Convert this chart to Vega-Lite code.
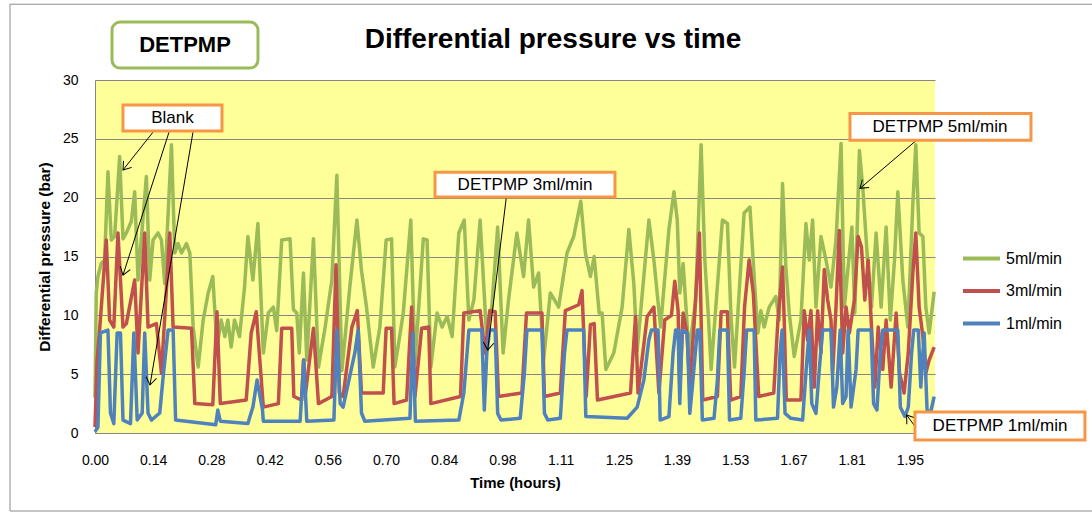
{
"$schema":"https://vega.github.io/schema/vega-lite/v6.json",
"autosize":{"type":"none"},
"width":840,"height":353,
"padding":{"left":95,"top":80,"right":157,"bottom":82},
"background":"white",
"config":{"view":{"fill":"#FFFF99","stroke":null},"font":"Liberation Sans"},
"datasets":{"p":[
{"s":"5ml/min","t":0,"v":3},{"s":"5ml/min","t":0.003,"v":11.9},{"s":"5ml/min","t":0.007,"v":13.3},{"s":"5ml/min","t":0.015,"v":14.4},{"s":"5ml/min","t":0.023,"v":14.7},{"s":"5ml/min","t":0.031,"v":22.2},{"s":"5ml/min","t":0.039,"v":16.4},{"s":"5ml/min","t":0.047,"v":16.7},{"s":"5ml/min","t":0.059,"v":23.5},{"s":"5ml/min","t":0.067,"v":16.5},{"s":"5ml/min","t":0.075,"v":17},{"s":"5ml/min","t":0.087,"v":18},{"s":"5ml/min","t":0.095,"v":20.5},{"s":"5ml/min","t":0.103,"v":13},{"s":"5ml/min","t":0.123,"v":21.8},{"s":"5ml/min","t":0.131,"v":13},{"s":"5ml/min","t":0.139,"v":16.4},{"s":"5ml/min","t":0.151,"v":17},{"s":"5ml/min","t":0.159,"v":16.4},{"s":"5ml/min","t":0.167,"v":12.7},{"s":"5ml/min","t":0.183,"v":24.5},{"s":"5ml/min","t":0.191,"v":15.3},{"s":"5ml/min","t":0.199,"v":16.1},{"s":"5ml/min","t":0.207,"v":15.3},{"s":"5ml/min","t":0.219,"v":16.1},{"s":"5ml/min","t":0.227,"v":15.3},{"s":"5ml/min","t":0.235,"v":9},{"s":"5ml/min","t":0.247,"v":5.6},{"s":"5ml/min","t":0.259,"v":9.6},{"s":"5ml/min","t":0.271,"v":11.9},{"s":"5ml/min","t":0.282,"v":13.3},{"s":"5ml/min","t":0.292,"v":7.3},{"s":"5ml/min","t":0.302,"v":9.6},{"s":"5ml/min","t":0.311,"v":8.2},{"s":"5ml/min","t":0.318,"v":9.6},{"s":"5ml/min","t":0.326,"v":7.3},{"s":"5ml/min","t":0.334,"v":9.6},{"s":"5ml/min","t":0.346,"v":8.2},{"s":"5ml/min","t":0.358,"v":12.4},{"s":"5ml/min","t":0.366,"v":16.7},{"s":"5ml/min","t":0.378,"v":13},{"s":"5ml/min","t":0.39,"v":17.8},{"s":"5ml/min","t":0.403,"v":6.8},{"s":"5ml/min","t":0.415,"v":10.2},{"s":"5ml/min","t":0.427,"v":10.7},{"s":"5ml/min","t":0.435,"v":8.7},{"s":"5ml/min","t":0.447,"v":16.4},{"s":"5ml/min","t":0.467,"v":16.5},{"s":"5ml/min","t":0.475,"v":10.5},{"s":"5ml/min","t":0.483,"v":10.2},{"s":"5ml/min","t":0.489,"v":6.8},{"s":"5ml/min","t":0.499,"v":13.6},{"s":"5ml/min","t":0.507,"v":6.2},{"s":"5ml/min","t":0.523,"v":16.5},{"s":"5ml/min","t":0.535,"v":5.6},{"s":"5ml/min","t":0.551,"v":9},{"s":"5ml/min","t":0.567,"v":13},{"s":"5ml/min","t":0.579,"v":21.9},{"s":"5ml/min","t":0.591,"v":5.3},{"s":"5ml/min","t":0.61,"v":12.4},{"s":"5ml/min","t":0.627,"v":18.1},{"s":"5ml/min","t":0.638,"v":13.8},{"s":"5ml/min","t":0.65,"v":10.7},{"s":"5ml/min","t":0.666,"v":5.6},{"s":"5ml/min","t":0.682,"v":9},{"s":"5ml/min","t":0.697,"v":16.4},{"s":"5ml/min","t":0.71,"v":16.5},{"s":"5ml/min","t":0.718,"v":5.6},{"s":"5ml/min","t":0.738,"v":10.2},{"s":"5ml/min","t":0.756,"v":18.1},{"s":"5ml/min","t":0.766,"v":5.9},{"s":"5ml/min","t":0.786,"v":16.5},{"s":"5ml/min","t":0.795,"v":16.4},{"s":"5ml/min","t":0.804,"v":5.6},{"s":"5ml/min","t":0.819,"v":10.2},{"s":"5ml/min","t":0.831,"v":9},{"s":"5ml/min","t":0.843,"v":9.9},{"s":"5ml/min","t":0.855,"v":8.2},{"s":"5ml/min","t":0.871,"v":17},{"s":"5ml/min","t":0.884,"v":18.1},{"s":"5ml/min","t":0.895,"v":9.6},{"s":"5ml/min","t":0.907,"v":11.3},{"s":"5ml/min","t":0.922,"v":18.1},{"s":"5ml/min","t":0.937,"v":8.5},{"s":"5ml/min","t":0.95,"v":10.7},{"s":"5ml/min","t":0.964,"v":17.5},{"s":"5ml/min","t":0.977,"v":6.8},{"s":"5ml/min","t":0.99,"v":11.3},{"s":"5ml/min","t":1.01,"v":17},{"s":"5ml/min","t":1.026,"v":13.3},{"s":"5ml/min","t":1.038,"v":18.1},{"s":"5ml/min","t":1.05,"v":12.4},{"s":"5ml/min","t":1.062,"v":13.6},{"s":"5ml/min","t":1.074,"v":6.2},{"s":"5ml/min","t":1.09,"v":11.9},{"s":"5ml/min","t":1.11,"v":10.7},{"s":"5ml/min","t":1.13,"v":15.3},{"s":"5ml/min","t":1.146,"v":16.7},{"s":"5ml/min","t":1.163,"v":19.7},{"s":"5ml/min","t":1.174,"v":15.3},{"s":"5ml/min","t":1.186,"v":13.3},{"s":"5ml/min","t":1.195,"v":15},{"s":"5ml/min","t":1.207,"v":10.2},{"s":"5ml/min","t":1.214,"v":10.2},{"s":"5ml/min","t":1.223,"v":5.4},{"s":"5ml/min","t":1.242,"v":6.8},{"s":"5ml/min","t":1.262,"v":10.7},{"s":"5ml/min","t":1.278,"v":17.3},{"s":"5ml/min","t":1.29,"v":12.7},{"s":"5ml/min","t":1.298,"v":7},{"s":"5ml/min","t":1.326,"v":18.1},{"s":"5ml/min","t":1.338,"v":14.7},{"s":"5ml/min","t":1.354,"v":9},{"s":"5ml/min","t":1.374,"v":17.3},{"s":"5ml/min","t":1.386,"v":20.5},{"s":"5ml/min","t":1.394,"v":18.1},{"s":"5ml/min","t":1.4,"v":11.9},{"s":"5ml/min","t":1.408,"v":14.4},{"s":"5ml/min","t":1.422,"v":6.8},{"s":"5ml/min","t":1.438,"v":11.3},{"s":"5ml/min","t":1.451,"v":24.5},{"s":"5ml/min","t":1.46,"v":14.7},{"s":"5ml/min","t":1.468,"v":10.2},{"s":"5ml/min","t":1.475,"v":5.4},{"s":"5ml/min","t":1.502,"v":18.1},{"s":"5ml/min","t":1.514,"v":17.8},{"s":"5ml/min","t":1.523,"v":9.6},{"s":"5ml/min","t":1.531,"v":5.6},{"s":"5ml/min","t":1.554,"v":18.7},{"s":"5ml/min","t":1.568,"v":19.2},{"s":"5ml/min","t":1.578,"v":13.3},{"s":"5ml/min","t":1.587,"v":8.5},{"s":"5ml/min","t":1.594,"v":10.4},{"s":"5ml/min","t":1.602,"v":9},{"s":"5ml/min","t":1.614,"v":10.7},{"s":"5ml/min","t":1.63,"v":11.6},{"s":"5ml/min","t":1.638,"v":9.6},{"s":"5ml/min","t":1.646,"v":21.2},{"s":"5ml/min","t":1.654,"v":14.1},{"s":"5ml/min","t":1.662,"v":10.2},{"s":"5ml/min","t":1.674,"v":6.5},{"s":"5ml/min","t":1.69,"v":9.6},{"s":"5ml/min","t":1.702,"v":17.8},{"s":"5ml/min","t":1.71,"v":14.7},{"s":"5ml/min","t":1.718,"v":18.1},{"s":"5ml/min","t":1.726,"v":10.7},{"s":"5ml/min","t":1.738,"v":16.7},{"s":"5ml/min","t":1.75,"v":14.7},{"s":"5ml/min","t":1.762,"v":12.4},{"s":"5ml/min","t":1.774,"v":16.4},{"s":"5ml/min","t":1.786,"v":24.6},{"s":"5ml/min","t":1.794,"v":10.7},{"s":"5ml/min","t":1.803,"v":14.1},{"s":"5ml/min","t":1.812,"v":17.5},{"s":"5ml/min","t":1.819,"v":10.2},{"s":"5ml/min","t":1.83,"v":24},{"s":"5ml/min","t":1.838,"v":20.9},{"s":"5ml/min","t":1.85,"v":14.4},{"s":"5ml/min","t":1.859,"v":10.7},{"s":"5ml/min","t":1.87,"v":17},{"s":"5ml/min","t":1.882,"v":10.7},{"s":"5ml/min","t":1.894,"v":17.5},{"s":"5ml/min","t":1.904,"v":9.6},{"s":"5ml/min","t":1.914,"v":14.7},{"s":"5ml/min","t":1.922,"v":20.5},{"s":"5ml/min","t":1.934,"v":13},{"s":"5ml/min","t":1.946,"v":9},{"s":"5ml/min","t":1.958,"v":19.5},{"s":"5ml/min","t":1.965,"v":24.5},{"s":"5ml/min","t":1.973,"v":17},{"s":"5ml/min","t":1.982,"v":16.7},{"s":"5ml/min","t":1.989,"v":10.7},{"s":"5ml/min","t":1.997,"v":8.5},{"s":"5ml/min","t":2.009,"v":12},
{"s":"3ml/min","t":0,"v":0.5},{"s":"3ml/min","t":0.005,"v":6.2},{"s":"3ml/min","t":0.011,"v":8.75},{"s":"3ml/min","t":0.027,"v":16.4},{"s":"3ml/min","t":0.035,"v":9.6},{"s":"3ml/min","t":0.045,"v":9},{"s":"3ml/min","t":0.055,"v":17},{"s":"3ml/min","t":0.067,"v":9},{"s":"3ml/min","t":0.075,"v":9.3},{"s":"3ml/min","t":0.095,"v":13},{"s":"3ml/min","t":0.103,"v":6.8},{"s":"3ml/min","t":0.119,"v":17},{"s":"3ml/min","t":0.127,"v":9},{"s":"3ml/min","t":0.147,"v":9.3},{"s":"3ml/min","t":0.159,"v":5.1},{"s":"3ml/min","t":0.179,"v":17},{"s":"3ml/min","t":0.187,"v":9},{"s":"3ml/min","t":0.231,"v":8.9},{"s":"3ml/min","t":0.239,"v":2.5},{"s":"3ml/min","t":0.282,"v":2.4},{"s":"3ml/min","t":0.292,"v":10.3},{"s":"3ml/min","t":0.3,"v":2.5},{"s":"3ml/min","t":0.362,"v":2.8},{"s":"3ml/min","t":0.374,"v":8.5},{"s":"3ml/min","t":0.386,"v":10.3},{"s":"3ml/min","t":0.403,"v":2.2},{"s":"3ml/min","t":0.439,"v":2.5},{"s":"3ml/min","t":0.447,"v":8.9},{"s":"3ml/min","t":0.471,"v":8.9},{"s":"3ml/min","t":0.476,"v":3.1},{"s":"3ml/min","t":0.495,"v":2.8},{"s":"3ml/min","t":0.499,"v":6.2},{"s":"3ml/min","t":0.504,"v":3.4},{"s":"3ml/min","t":0.523,"v":8.9},{"s":"3ml/min","t":0.535,"v":2.5},{"s":"3ml/min","t":0.567,"v":3.1},{"s":"3ml/min","t":0.577,"v":14.3},{"s":"3ml/min","t":0.585,"v":3.4},{"s":"3ml/min","t":0.594,"v":3.1},{"s":"3ml/min","t":0.615,"v":9},{"s":"3ml/min","t":0.628,"v":10.4},{"s":"3ml/min","t":0.638,"v":3.4},{"s":"3ml/min","t":0.69,"v":3.4},{"s":"3ml/min","t":0.697,"v":8.9},{"s":"3ml/min","t":0.71,"v":8.9},{"s":"3ml/min","t":0.716,"v":2.5},{"s":"3ml/min","t":0.746,"v":2.8},{"s":"3ml/min","t":0.758,"v":10.7},{"s":"3ml/min","t":0.766,"v":3.1},{"s":"3ml/min","t":0.782,"v":8.9},{"s":"3ml/min","t":0.799,"v":9},{"s":"3ml/min","t":0.804,"v":2.5},{"s":"3ml/min","t":0.875,"v":3.1},{"s":"3ml/min","t":0.883,"v":10.2},{"s":"3ml/min","t":0.922,"v":10.4},{"s":"3ml/min","t":0.934,"v":6.8},{"s":"3ml/min","t":0.945,"v":10.4},{"s":"3ml/min","t":0.958,"v":10.3},{"s":"3ml/min","t":0.966,"v":3.1},{"s":"3ml/min","t":1.022,"v":3.4},{"s":"3ml/min","t":1.033,"v":10.2},{"s":"3ml/min","t":1.07,"v":10.2},{"s":"3ml/min","t":1.076,"v":3.1},{"s":"3ml/min","t":1.114,"v":3.4},{"s":"3ml/min","t":1.126,"v":10.4},{"s":"3ml/min","t":1.158,"v":10.9},{"s":"3ml/min","t":1.166,"v":12.1},{"s":"3ml/min","t":1.176,"v":3.1},{"s":"3ml/min","t":1.186,"v":9.2},{"s":"3ml/min","t":1.195,"v":9.3},{"s":"3ml/min","t":1.203,"v":2.8},{"s":"3ml/min","t":1.282,"v":3.4},{"s":"3ml/min","t":1.294,"v":9.9},{"s":"3ml/min","t":1.3,"v":3.4},{"s":"3ml/min","t":1.322,"v":9.9},{"s":"3ml/min","t":1.338,"v":10.7},{"s":"3ml/min","t":1.35,"v":3.4},{"s":"3ml/min","t":1.364,"v":9.6},{"s":"3ml/min","t":1.38,"v":10},{"s":"3ml/min","t":1.388,"v":12.9},{"s":"3ml/min","t":1.396,"v":10.4},{"s":"3ml/min","t":1.4,"v":3.9},{"s":"3ml/min","t":1.408,"v":10.2},{"s":"3ml/min","t":1.417,"v":8.5},{"s":"3ml/min","t":1.424,"v":3.9},{"s":"3ml/min","t":1.436,"v":10.2},{"s":"3ml/min","t":1.447,"v":17},{"s":"3ml/min","t":1.455,"v":2.8},{"s":"3ml/min","t":1.49,"v":3.1},{"s":"3ml/min","t":1.499,"v":10.3},{"s":"3ml/min","t":1.514,"v":10.3},{"s":"3ml/min","t":1.522,"v":2.8},{"s":"3ml/min","t":1.546,"v":3.1},{"s":"3ml/min","t":1.555,"v":10.7},{"s":"3ml/min","t":1.566,"v":14.7},{"s":"3ml/min","t":1.576,"v":11.9},{"s":"3ml/min","t":1.589,"v":3.1},{"s":"3ml/min","t":1.625,"v":3.4},{"s":"3ml/min","t":1.635,"v":9.6},{"s":"3ml/min","t":1.646,"v":14.1},{"s":"3ml/min","t":1.65,"v":9.6},{"s":"3ml/min","t":1.655,"v":2.8},{"s":"3ml/min","t":1.69,"v":2.8},{"s":"3ml/min","t":1.698,"v":10.4},{"s":"3ml/min","t":1.706,"v":7.9},{"s":"3ml/min","t":1.714,"v":10.4},{"s":"3ml/min","t":1.722,"v":3.9},{"s":"3ml/min","t":1.73,"v":10.4},{"s":"3ml/min","t":1.738,"v":6.8},{"s":"3ml/min","t":1.746,"v":13.9},{"s":"3ml/min","t":1.754,"v":11.3},{"s":"3ml/min","t":1.762,"v":9.6},{"s":"3ml/min","t":1.766,"v":5.1},{"s":"3ml/min","t":1.774,"v":10.7},{"s":"3ml/min","t":1.782,"v":17.2},{"s":"3ml/min","t":1.79,"v":6.8},{"s":"3ml/min","t":1.798,"v":10.7},{"s":"3ml/min","t":1.806,"v":8.5},{"s":"3ml/min","t":1.818,"v":11.3},{"s":"3ml/min","t":1.827,"v":16.7},{"s":"3ml/min","t":1.835,"v":15.8},{"s":"3ml/min","t":1.843,"v":11.3},{"s":"3ml/min","t":1.851,"v":14.7},{"s":"3ml/min","t":1.859,"v":9},{"s":"3ml/min","t":1.867,"v":3.9},{"s":"3ml/min","t":1.875,"v":9},{"s":"3ml/min","t":1.886,"v":5.4},{"s":"3ml/min","t":1.894,"v":9.6},{"s":"3ml/min","t":1.906,"v":3.9},{"s":"3ml/min","t":1.918,"v":10.2},{"s":"3ml/min","t":1.926,"v":5.1},{"s":"3ml/min","t":1.937,"v":3.4},{"s":"3ml/min","t":1.947,"v":6.8},{"s":"3ml/min","t":1.958,"v":13.6},{"s":"3ml/min","t":1.965,"v":17},{"s":"3ml/min","t":1.973,"v":10.7},{"s":"3ml/min","t":1.982,"v":8.2},{"s":"3ml/min","t":1.989,"v":5.1},{"s":"3ml/min","t":1.997,"v":6.2},{"s":"3ml/min","t":2.009,"v":7.3},
{"s":"1ml/min","t":0,"v":0.1},{"s":"1ml/min","t":0.007,"v":0.5},{"s":"1ml/min","t":0.013,"v":8.5},{"s":"1ml/min","t":0.031,"v":8.75},{"s":"1ml/min","t":0.037,"v":1.7},{"s":"1ml/min","t":0.045,"v":0.8},{"s":"1ml/min","t":0.053,"v":8.5},{"s":"1ml/min","t":0.061,"v":8.5},{"s":"1ml/min","t":0.067,"v":1.1},{"s":"1ml/min","t":0.085,"v":0.8},{"s":"1ml/min","t":0.093,"v":8.5},{"s":"1ml/min","t":0.101,"v":1.1},{"s":"1ml/min","t":0.113,"v":1.7},{"s":"1ml/min","t":0.119,"v":8.5},{"s":"1ml/min","t":0.127,"v":1.7},{"s":"1ml/min","t":0.135,"v":1.1},{"s":"1ml/min","t":0.155,"v":1.7},{"s":"1ml/min","t":0.164,"v":5.1},{"s":"1ml/min","t":0.175,"v":8.75},{"s":"1ml/min","t":0.187,"v":8.75},{"s":"1ml/min","t":0.193,"v":1.1},{"s":"1ml/min","t":0.289,"v":0.7},{"s":"1ml/min","t":0.294,"v":1.95},{"s":"1ml/min","t":0.3,"v":1},{"s":"1ml/min","t":0.366,"v":0.8},{"s":"1ml/min","t":0.378,"v":2.2},{"s":"1ml/min","t":0.388,"v":4.5},{"s":"1ml/min","t":0.401,"v":1.95},{"s":"1ml/min","t":0.403,"v":1},{"s":"1ml/min","t":0.491,"v":1},{"s":"1ml/min","t":0.5,"v":6.2},{"s":"1ml/min","t":0.507,"v":1},{"s":"1ml/min","t":0.572,"v":1.1},{"s":"1ml/min","t":0.579,"v":8.75},{"s":"1ml/min","t":0.587,"v":2.5},{"s":"1ml/min","t":0.594,"v":2.2},{"s":"1ml/min","t":0.622,"v":6.8},{"s":"1ml/min","t":0.63,"v":8.75},{"s":"1ml/min","t":0.638,"v":1.7},{"s":"1ml/min","t":0.646,"v":1},{"s":"1ml/min","t":0.754,"v":1.25},{"s":"1ml/min","t":0.761,"v":8.5},{"s":"1ml/min","t":0.767,"v":1},{"s":"1ml/min","t":0.871,"v":1.1},{"s":"1ml/min","t":0.883,"v":3.4},{"s":"1ml/min","t":0.895,"v":8.75},{"s":"1ml/min","t":0.926,"v":8.75},{"s":"1ml/min","t":0.932,"v":1.95},{"s":"1ml/min","t":0.938,"v":6.8},{"s":"1ml/min","t":0.945,"v":8.75},{"s":"1ml/min","t":0.958,"v":8.75},{"s":"1ml/min","t":0.964,"v":1.67},{"s":"1ml/min","t":0.972,"v":1.1},{"s":"1ml/min","t":1.018,"v":1.25},{"s":"1ml/min","t":1.028,"v":5.1},{"s":"1ml/min","t":1.034,"v":8.75},{"s":"1ml/min","t":1.07,"v":8.75},{"s":"1ml/min","t":1.076,"v":1.67},{"s":"1ml/min","t":1.084,"v":1.1},{"s":"1ml/min","t":1.114,"v":1.25},{"s":"1ml/min","t":1.124,"v":6.8},{"s":"1ml/min","t":1.13,"v":8.75},{"s":"1ml/min","t":1.17,"v":8.75},{"s":"1ml/min","t":1.175,"v":1.4},{"s":"1ml/min","t":1.274,"v":1.25},{"s":"1ml/min","t":1.298,"v":2.2},{"s":"1ml/min","t":1.314,"v":4.5},{"s":"1ml/min","t":1.326,"v":7.9},{"s":"1ml/min","t":1.332,"v":8.75},{"s":"1ml/min","t":1.348,"v":8.75},{"s":"1ml/min","t":1.353,"v":1.1},{"s":"1ml/min","t":1.374,"v":1.4},{"s":"1ml/min","t":1.384,"v":6.8},{"s":"1ml/min","t":1.39,"v":8.75},{"s":"1ml/min","t":1.396,"v":8.75},{"s":"1ml/min","t":1.4,"v":2.5},{"s":"1ml/min","t":1.406,"v":8.75},{"s":"1ml/min","t":1.418,"v":8.5},{"s":"1ml/min","t":1.424,"v":1.67},{"s":"1ml/min","t":1.43,"v":3.9},{"s":"1ml/min","t":1.442,"v":8.75},{"s":"1ml/min","t":1.448,"v":8.75},{"s":"1ml/min","t":1.454,"v":1.1},{"s":"1ml/min","t":1.482,"v":1.25},{"s":"1ml/min","t":1.49,"v":4.5},{"s":"1ml/min","t":1.496,"v":8.75},{"s":"1ml/min","t":1.514,"v":8.75},{"s":"1ml/min","t":1.519,"v":1.1},{"s":"1ml/min","t":1.546,"v":1.25},{"s":"1ml/min","t":1.554,"v":5.1},{"s":"1ml/min","t":1.56,"v":8.75},{"s":"1ml/min","t":1.578,"v":8.75},{"s":"1ml/min","t":1.582,"v":1.1},{"s":"1ml/min","t":1.634,"v":1.25},{"s":"1ml/min","t":1.64,"v":6.8},{"s":"1ml/min","t":1.645,"v":8.75},{"s":"1ml/min","t":1.652,"v":1.67},{"s":"1ml/min","t":1.666,"v":1.25},{"s":"1ml/min","t":1.694,"v":1.1},{"s":"1ml/min","t":1.702,"v":5.1},{"s":"1ml/min","t":1.71,"v":8.75},{"s":"1ml/min","t":1.716,"v":2.5},{"s":"1ml/min","t":1.726,"v":1.67},{"s":"1ml/min","t":1.734,"v":5.4},{"s":"1ml/min","t":1.742,"v":8.75},{"s":"1ml/min","t":1.762,"v":8.75},{"s":"1ml/min","t":1.768,"v":2.2},{"s":"1ml/min","t":1.776,"v":3.9},{"s":"1ml/min","t":1.784,"v":8.75},{"s":"1ml/min","t":1.79,"v":2.5},{"s":"1ml/min","t":1.798,"v":3.1},{"s":"1ml/min","t":1.803,"v":8.75},{"s":"1ml/min","t":1.81,"v":2.2},{"s":"1ml/min","t":1.822,"v":5.4},{"s":"1ml/min","t":1.827,"v":8.75},{"s":"1ml/min","t":1.858,"v":8.75},{"s":"1ml/min","t":1.864,"v":2.5},{"s":"1ml/min","t":1.872,"v":1.95},{"s":"1ml/min","t":1.88,"v":6.8},{"s":"1ml/min","t":1.886,"v":8.75},{"s":"1ml/min","t":1.922,"v":8.75},{"s":"1ml/min","t":1.928,"v":2.2},{"s":"1ml/min","t":1.939,"v":1.4},{"s":"1ml/min","t":1.947,"v":2.2},{"s":"1ml/min","t":1.955,"v":6.8},{"s":"1ml/min","t":1.96,"v":8.75},{"s":"1ml/min","t":1.971,"v":8.75},{"s":"1ml/min","t":1.977,"v":3.9},{"s":"1ml/min","t":1.985,"v":8.5},{"s":"1ml/min","t":1.992,"v":1.95},{"s":"1ml/min","t":2.0,"v":1.67},{"s":"1ml/min","t":2.009,"v":3.1}
]},
"layer":[
{"data":{"name":"p"},"transform":[{"filter":"datum.s === '5ml/min'"}],"mark":{"type":"line","strokeWidth":3.5,"strokeJoin":"round","clip":false},
 "encoding":{"x":{"field":"t","type":"quantitative","scale":{"domain":[0,2.011],"nice":false,"zero":false},
   "axis":{"values":[0,0.13933,0.27867,0.418,0.55733,0.69667,0.836,0.97533,1.11467,1.254,1.39333,1.53267,1.672,1.81133,1.95067],"format":".2f","labelFontSize":14,"labelColor":"#000000","labelPadding":20,"labelFlush":false,"labelOverlap":false,"ticks":false,"grid":false,"domainColor":"#868686","title":"Time (hours)","titleFontSize":15,"titleFontWeight":"bold","titleColor":"#000000","titlePadding":8}},
  "y":{"field":"v","type":"quantitative","scale":{"domain":[0,30],"nice":false},
   "axis":{"values":[0,5,10,15,20,25,30],"labelFontSize":14,"labelColor":"#000000","labelPadding":17,"ticks":false,"grid":true,"gridColor":"#868686","domainColor":"#868686","title":"Differential pressure (bar)","titleFontSize":15.5,"titleFontWeight":"bold","titleColor":"#000000","titlePadding":10}},
  "color":{"field":"s","type":"nominal","scale":{"domain":["5ml/min","3ml/min","1ml/min"],"range":["#9BBB59","#C0504D","#4F81BD"]},
   "legend":{"orient":"none","legendX":866,"legendY":158,"title":null,"symbolType":"stroke","symbolSize":1369,"symbolStrokeWidth":4,"labelFontSize":16,"labelColor":"#000000","rowPadding":3.5,"labelOffset":4,"padding":0}}}},
{"data":{"name":"p"},"transform":[{"filter":"datum.s === '3ml/min'"}],"mark":{"type":"line","strokeWidth":3.5,"strokeJoin":"round","clip":false},
 "encoding":{"x":{"field":"t","type":"quantitative"},"y":{"field":"v","type":"quantitative"},
  "color":{"field":"s","type":"nominal"}}},
{"data":{"name":"p"},"transform":[{"filter":"datum.s === '1ml/min'"}],"mark":{"type":"line","strokeWidth":3.5,"strokeJoin":"round","clip":false},
 "encoding":{"x":{"field":"t","type":"quantitative"},"y":{"field":"v","type":"quantitative"},
  "color":{"field":"s","type":"nominal"}}},
{"data":{"values":[{}]},"mark":{"type":"text","fontSize":28,"fontWeight":"bold","align":"center","baseline":"middle","color":"#000000","text":"Differential pressure vs time"},
 "encoding":{"x":{"datum":1.0965,"type":"quantitative"},"y":{"datum":33.39,"type":"quantitative"}}},
{"data":{"values":[{}]},"mark":{"type":"rect","fill":"#FFFFFF","stroke":"#9BBB59","strokeWidth":3,"cornerRadius":8},
 "encoding":{"x":{"datum":0.0407,"type":"quantitative"},"x2":{"datum":0.3902},"y":{"datum":34.92,"type":"quantitative"},"y2":{"datum":31.01}}},
{"data":{"values":[{}]},"mark":{"type":"text","fontSize":22,"fontWeight":"bold","align":"center","baseline":"middle","color":"#000000","text":"DETPMP"},
 "encoding":{"x":{"datum":0.2155,"type":"quantitative"},"y":{"datum":32.97,"type":"quantitative"}}},
{"data":{"values":[{}]},"mark":{"type":"rule","stroke":"#000000","strokeWidth":1},
 "encoding":{"x":{"datum":0.1389,"type":"quantitative"},"x2":{"datum":0.067},"y":{"datum":25.57,"type":"quantitative"},"y2":{"datum":22.35}}},
{"data":{"values":[{}]},"mark":{"type":"rule","stroke":"#000000","strokeWidth":1},
 "encoding":{"x":{"datum":0.1772,"type":"quantitative"},"x2":{"datum":0.067},"y":{"datum":25.57,"type":"quantitative"},"y2":{"datum":13.42}}},
{"data":{"values":[{}]},"mark":{"type":"rule","stroke":"#000000","strokeWidth":1},
 "encoding":{"x":{"datum":0.2346,"type":"quantitative"},"x2":{"datum":0.1317},"y":{"datum":25.57,"type":"quantitative"},"y2":{"datum":4.08}}},
{"data":{"values":[{}]},"mark":{"type":"rule","stroke":"#000000","strokeWidth":1},
 "encoding":{"x":{"datum":0.9847,"type":"quantitative"},"x2":{"datum":0.9401},"y":{"datum":20.03,"type":"quantitative"},"y2":{"datum":7.05}}},
{"data":{"values":[{}]},"mark":{"type":"rule","stroke":"#000000","strokeWidth":1},
 "encoding":{"x":{"datum":1.967,"type":"quantitative"},"x2":{"datum":1.8314},"y":{"datum":24.89,"type":"quantitative"},"y2":{"datum":20.79}}},
{"data":{"values":[{}]},"mark":{"type":"rule","stroke":"#000000","strokeWidth":1},
 "encoding":{"x":{"datum":1.975,"type":"quantitative"},"x2":{"datum":1.943},"y":{"datum":0,"type":"quantitative"},"y2":{"datum":1.53}}},
{"data":{"values":[{}]},"mark":{"type":"point","shape":"M-1,-0.7L0,0L-1,0.7","angle":128.3,"size":225,"filled":false,"stroke":"#000000","strokeWidth":1,"opacity":1},
 "encoding":{"x":{"datum":0.067,"type":"quantitative"},"y":{"datum":22.35,"type":"quantitative"}}},
{"data":{"values":[{}]},"mark":{"type":"point","shape":"M-1,-0.7L0,0L-1,0.7","angle":107.8,"size":225,"filled":false,"stroke":"#000000","strokeWidth":1,"opacity":1},
 "encoding":{"x":{"datum":0.067,"type":"quantitative"},"y":{"datum":13.42,"type":"quantitative"}}},
{"data":{"values":[{}]},"mark":{"type":"point","shape":"M-1,-0.7L0,0L-1,0.7","angle":99.6,"size":225,"filled":false,"stroke":"#000000","strokeWidth":1,"opacity":1},
 "encoding":{"x":{"datum":0.1317,"type":"quantitative"},"y":{"datum":4.08,"type":"quantitative"}}},
{"data":{"values":[{}]},"mark":{"type":"point","shape":"M-1,-0.7L0,0L-1,0.7","angle":96.9,"size":225,"filled":false,"stroke":"#000000","strokeWidth":1,"opacity":1},
 "encoding":{"x":{"datum":0.9401,"type":"quantitative"},"y":{"datum":7.05,"type":"quantitative"}}},
{"data":{"values":[{}]},"mark":{"type":"point","shape":"M-1,-0.7L0,0L-1,0.7","angle":139.6,"size":225,"filled":false,"stroke":"#000000","strokeWidth":1,"opacity":1},
 "encoding":{"x":{"datum":1.8314,"type":"quantitative"},"y":{"datum":20.79,"type":"quantitative"}}},
{"data":{"values":[{}]},"mark":{"type":"point","shape":"M-1,-0.7L0,0L-1,0.7","angle":233.5,"size":225,"filled":false,"stroke":"#000000","strokeWidth":1,"opacity":1},
 "encoding":{"x":{"datum":1.943,"type":"quantitative"},"y":{"datum":1.53,"type":"quantitative"}}},
{"data":{"values":[{}]},"mark":{"type":"rect","fill":"#FFFFFF","stroke":"#F79646","strokeWidth":3},
 "encoding":{"x":{"datum":0.067,"type":"quantitative"},"x2":{"datum":0.304},"y":{"datum":27.87,"type":"quantitative"},"y2":{"datum":25.66}}},
{"data":{"values":[{}]},"mark":{"type":"text","fontSize":17,"align":"center","baseline":"middle","color":"#000000","text":"Blank"},
 "encoding":{"x":{"datum":0.1855,"type":"quantitative"},"y":{"datum":26.76,"type":"quantitative"}}},
{"data":{"values":[{}]},"mark":{"type":"rect","fill":"#FFFFFF","stroke":"#F79646","strokeWidth":3},
 "encoding":{"x":{"datum":0.814,"type":"quantitative"},"x2":{"datum":1.2449},"y":{"datum":22.17,"type":"quantitative"},"y2":{"datum":20.05}}},
{"data":{"values":[{}]},"mark":{"type":"text","fontSize":17,"align":"center","baseline":"middle","color":"#000000","text":"DETPMP 3ml/min"},
 "encoding":{"x":{"datum":1.0294,"type":"quantitative"},"y":{"datum":21.07,"type":"quantitative"}}},
{"data":{"values":[{}]},"mark":{"type":"rect","fill":"#FFFFFF","stroke":"#F79646","strokeWidth":3},
 "encoding":{"x":{"datum":1.8075,"type":"quantitative"},"x2":{"datum":2.2408},"y":{"datum":27.16,"type":"quantitative"},"y2":{"datum":24.89}}},
{"data":{"values":[{}]},"mark":{"type":"text","fontSize":17,"align":"center","baseline":"middle","color":"#000000","text":"DETPMP 5ml/min"},
 "encoding":{"x":{"datum":2.0229,"type":"quantitative"},"y":{"datum":26.0,"type":"quantitative"}}},
{"data":{"values":[{}]},"mark":{"type":"rect","fill":"#FFFFFF","stroke":"#F79646","strokeWidth":3},
 "encoding":{"x":{"datum":1.963,"type":"quantitative"},"x2":{"datum":2.37},"y":{"datum":1.78,"type":"quantitative"},"y2":{"datum":-0.59}}},
{"data":{"values":[{}]},"mark":{"type":"text","fontSize":17,"align":"center","baseline":"middle","color":"#000000","text":"DETPMP 1ml/min"},
 "encoding":{"x":{"datum":2.1666,"type":"quantitative"},"y":{"datum":0.59,"type":"quantitative"}}},
{"data":{"values":[{}]},"mark":{"type":"rect","fill":null,"stroke":"#8C8C8C","strokeWidth":1},
 "encoding":{"x":{"datum":-0.2035,"type":"quantitative"},"x2":{"datum":2.39},"y":{"datum":36.44,"type":"quantitative"},"y2":{"datum":-6.63}}}
]
}
